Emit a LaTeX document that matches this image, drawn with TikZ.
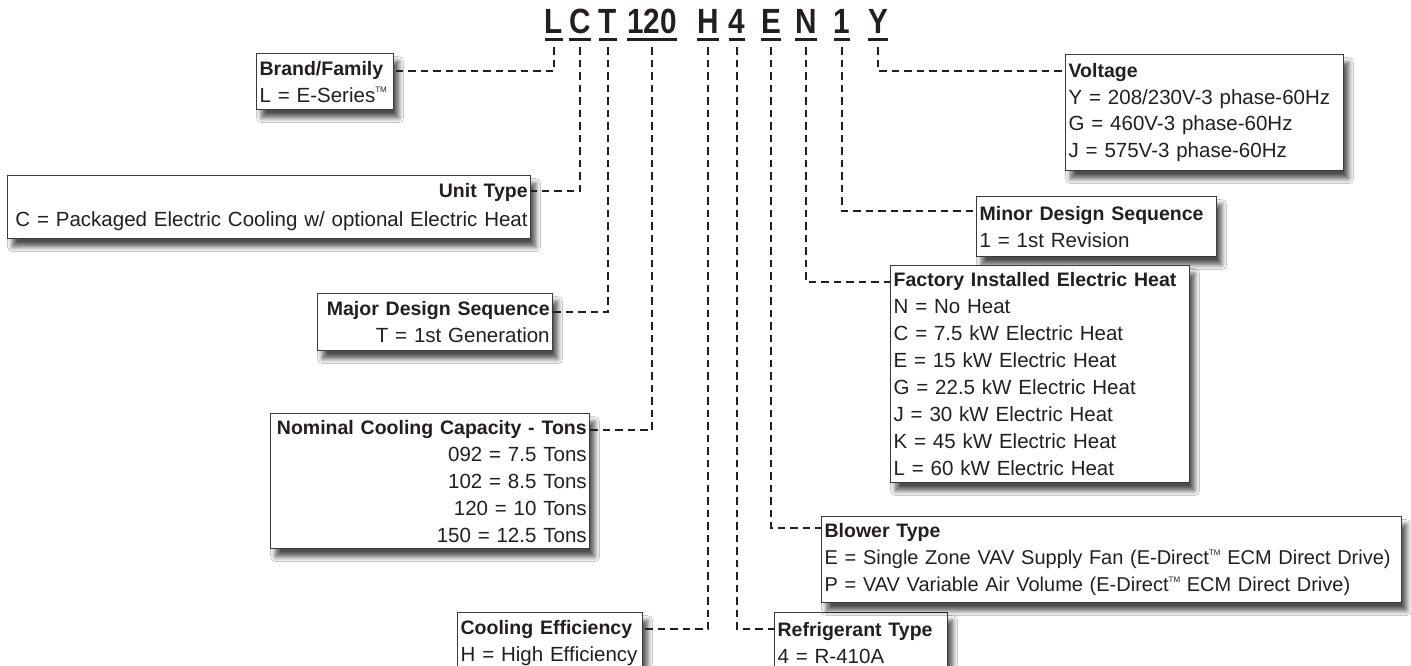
\documentclass[tikz,border=0pt]{standalone}
\usepackage{fontspec}
\setmainfont{Liberation Sans}
\usetikzlibrary{shadows.blur}
\definecolor{ink}{HTML}{231F20}
\definecolor{frame}{HTML}{3A3A3A}
\newcommand\tmark{\raisebox{0.45em}{\fontsize{8}{8}\selectfont TM}}
\newcommand\hd[1]{{\fontsize{19.5}{20}\selectfont\bfseries #1}}
\begin{document}
\begin{tikzpicture}[x=1pt,y=-1pt,
  box/.style={draw=frame, line width=1.3pt, fill=white, text=ink, inner xsep=3pt, inner ysep=0pt,
    anchor=north west, font=\fontsize{20.5}{27}\selectfont,
    blur shadow={shadow xshift=5pt, shadow yshift=-8pt, shadow blur radius=5pt, shadow blur steps=10, shadow opacity=70}},
  code/.style={text=ink, inner sep=0pt, anchor=base, font=\fontsize{35}{40}\selectfont\bfseries},
  uline/.style={draw=ink, line width=2.6pt},
  conn/.style={draw=ink, line width=2pt, dash pattern=on 7.5pt off 5pt},
]
\useasboundingbox (0,0) rectangle (1411,665);
\clip (0,0) rectangle (1411,665);
\fill[white] (0,0) rectangle (1411,665);

% code letters
\node[code] (cL) at (554,33) {\scalebox{0.85}[1]{L}};
\node[code] (cC) at (580,33) {\scalebox{0.85}[1]{C}};
\node[code] (cT) at (608,33) {\scalebox{0.85}[1]{T}};
\node[code] (c120) at (652,33) {\scalebox{0.85}[1]{120}};
\node[code] (cH) at (708,33) {\scalebox{0.85}[1]{H}};
\node[code] (c4) at (737,33) {\scalebox{0.85}[1]{4}};
\node[code] (cE) at (771,33) {\scalebox{0.85}[1]{E}};
\node[code] (cN) at (806,33) {\scalebox{0.85}[1]{N}};
\node[code] (c1) at (842,33) {\scalebox{0.85}[1]{1}};
\node[code] (cY) at (878,33) {\scalebox{0.85}[1]{Y}};
\foreach \n in {cL,cC,cT,c120,cH,c4,cE,cN,c1,cY}{
  \draw[uline] ([yshift=-6.5pt]\n.base west) -- ([yshift=-6.5pt]\n.base east);
  \coordinate (p\n) at ([yshift=-14pt]\n.base);
}

% boxes
\node[box, text width=131pt, align=left, minimum height=56pt] (brand) at (256,53)
  {\hd{Brand/Family}\\L = E-Series\tmark};
\node[box, text width=517pt, align=right, minimum height=63pt, font=\fontsize{20.5}{29}\selectfont] (unit) at (7,175)
  {\hd{Unit Type}\\C = Packaged Electric Cooling w/ optional Electric Heat};
\node[box, text width=229pt, align=right, minimum height=57pt] (major) at (317,293)
  {\hd{Major Design Sequence}\\T = 1st Generation};
\node[box, text width=313pt, align=right, minimum height=135pt] (nominal) at (270,413)
  {\hd{Nominal Cooling Capacity - Tons}\\092 = 7.5 Tons\\102 = 8.5 Tons\\120 = 10 Tons\\150 = 12.5 Tons};
\node[box, text width=179pt, align=left, minimum height=61pt] (cooling) at (457,612)
  {\hd{Cooling Efficiency}\\H = High Efficiency};
\node[box, text width=167pt, align=left, minimum height=61pt] (refrig) at (774,612)
  {\hd{Refrigerant Type}\\4 = R-410A};
\node[box, text width=272pt, align=left, minimum height=116pt, font=\fontsize{20.5}{26.5}\selectfont] (voltage) at (1065,54)
  {\hd{Voltage}\\Y = 208/230V-3 phase-60Hz\\G = 460V-3 phase-60Hz\\J = 575V-3 phase-60Hz};
\node[box, text width=234pt, align=left, minimum height=60pt] (minor) at (976,196)
  {\hd{Minor Design Sequence}\\1 = 1st Revision};
\node[box, text width=293pt, align=left, minimum height=217pt] (factory) at (890,265)
  {\hd{Factory Installed Electric Heat}\\N = No Heat\\C = 7.5 kW Electric Heat\\E = 15 kW Electric Heat\\G = 22.5 kW Electric Heat\\J = 30 kW Electric Heat\\K = 45 kW Electric Heat\\L = 60 kW Electric Heat};
\node[box, text width=574pt, align=left, minimum height=86pt, font=\fontsize{20}{27}\selectfont] (blower) at (821,516)
  {\hd{Blower Type}\\E = Single Zone VAV Supply Fan (E-Direct\tmark{} ECM Direct Drive)\\P = VAV Variable Air Volume (E-Direct\tmark{} ECM Direct Drive)};

% connectors
\draw[conn] (pcL) |- ([yshift=-18pt]brand.north east);
\draw[conn] (pcC) |- ([yshift=-16pt]unit.north east);
\draw[conn] (pcT) |- ([yshift=-19pt]major.north east);
\draw[conn] (pc120) |- ([yshift=-17pt]nominal.north east);
\draw[conn] (pcH) |- ([yshift=-17pt]cooling.north east);
\draw[conn] (pc4) |- ([yshift=-17pt]refrig.north west);
\draw[conn] (pcE) |- ([yshift=-12pt]blower.north west);
\draw[conn] (pcN) |- ([yshift=-17pt]factory.north west);
\draw[conn] (pc1) |- ([yshift=-15pt]minor.north west);
\draw[conn] (pcY) |- ([yshift=-17pt]voltage.north west);
\end{tikzpicture}
\end{document}
